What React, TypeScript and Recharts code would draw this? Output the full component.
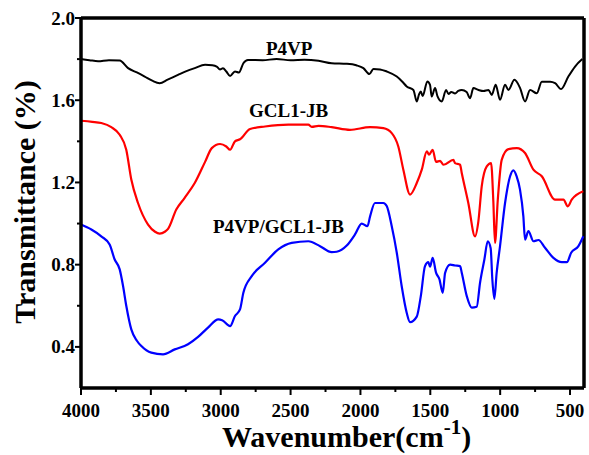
import React from 'react';
import { LineChart, Line, XAxis, YAxis, ReferenceLine } from 'recharts';

// FTIR spectra, [wavenumber cm-1, transmittance]
const P4VP: [number, number][] = [
  [4000, 1.8], [3940, 1.795], [3878, 1.79], [3800, 1.795], [3723, 1.793], [3663, 1.756], [3600, 1.735],
  [3544, 1.715], [3490, 1.695], [3437, 1.683], [3380, 1.7], [3306, 1.723], [3250, 1.74], [3186, 1.756],
  [3112, 1.772], [3060, 1.77], [3029, 1.764], [3005, 1.75], [2984, 1.755], [2960, 1.74], [2933, 1.718],
  [2898, 1.74], [2870, 1.735], [2838, 1.78], [2805, 1.796], [2700, 1.795], [2600, 1.8], [2500, 1.795],
  [2400, 1.797], [2300, 1.792], [2206, 1.78], [2098, 1.777], [2030, 1.77], [1979, 1.756], [1936, 1.727],
  [1907, 1.752], [1860, 1.75], [1812, 1.74], [1740, 1.715], [1700, 1.69], [1669, 1.667], [1621, 1.65],
  [1597, 1.594], [1580, 1.63], [1568, 1.642], [1555, 1.62], [1521, 1.691], [1502, 1.675], [1490, 1.618],
  [1466, 1.659], [1449, 1.62], [1418, 1.594], [1387, 1.65], [1370, 1.63], [1350, 1.64], [1323, 1.633],
  [1300, 1.645], [1275, 1.65], [1240, 1.64], [1215, 1.61], [1192, 1.659], [1155, 1.65], [1120, 1.645],
  [1084, 1.65], [1060, 1.626], [1032, 1.675], [1001, 1.602], [965, 1.675], [941, 1.65], [898, 1.699],
  [858, 1.66], [822, 1.594], [786, 1.65], [738, 1.634], [702, 1.69], [643, 1.69], [607, 1.683],
  [564, 1.654], [512, 1.715], [464, 1.764], [412, 1.8],
];

const GCL1_JB: [number, number][] = [
  [4000, 1.5], [3920, 1.495], [3855, 1.489], [3783, 1.469], [3723, 1.432], [3676, 1.359], [3640, 1.214],
  [3592, 1.1], [3520, 0.995], [3470, 0.96], [3437, 0.951], [3400, 0.96], [3377, 0.974], [3318, 1.068],
  [3258, 1.125], [3186, 1.197], [3112, 1.3], [3064, 1.367], [3005, 1.387], [2960, 1.375], [2933, 1.359],
  [2898, 1.4], [2862, 1.41], [2790, 1.46], [2683, 1.472], [2516, 1.481], [2373, 1.481], [2349, 1.47],
  [2300, 1.475], [2206, 1.469], [2075, 1.456], [1931, 1.469], [1836, 1.464], [1776, 1.44], [1729, 1.375],
  [1693, 1.262], [1645, 1.141], [1597, 1.197], [1561, 1.262], [1525, 1.351], [1509, 1.335], [1483, 1.359],
  [1459, 1.3], [1430, 1.305], [1406, 1.286], [1335, 1.31], [1323, 1.294], [1287, 1.286], [1275, 1.246],
  [1228, 1.1], [1180, 0.938], [1156, 1.011], [1132, 1.181], [1096, 1.278], [1065, 1.294], [1049, 1.11],
  [1037, 0.906], [1017, 1.116], [989, 1.31], [941, 1.362], [881, 1.367], [822, 1.343], [762, 1.262],
  [702, 1.23], [607, 1.116], [547, 1.116], [516, 1.084], [488, 1.116], [405, 1.157],
];

const BLEND: [number, number][] = [
  [4000, 0.995], [3926, 0.971], [3855, 0.938], [3795, 0.898], [3759, 0.825], [3723, 0.777], [3699, 0.696],
  [3676, 0.6], [3640, 0.485], [3600, 0.43], [3568, 0.404], [3497, 0.372], [3413, 0.364], [3329, 0.388],
  [3234, 0.413], [3160, 0.45], [3091, 0.494], [3017, 0.534], [2990, 0.53], [2933, 0.501], [2898, 0.55],
  [2862, 0.582], [2838, 0.663], [2778, 0.744], [2683, 0.809], [2588, 0.874], [2492, 0.906], [2373, 0.914],
  [2289, 0.89], [2206, 0.861], [2170, 0.863], [2098, 0.893], [2039, 0.947], [1991, 1.0], [1950, 0.987],
  [1931, 1.035], [1896, 1.1], [1836, 1.1], [1812, 1.085], [1776, 0.987], [1740, 0.858], [1705, 0.696],
  [1669, 0.566], [1645, 0.52], [1597, 0.547], [1568, 0.647], [1538, 0.793], [1514, 0.812], [1502, 0.79],
  [1483, 0.833], [1459, 0.761], [1435, 0.73], [1411, 0.663], [1394, 0.76], [1358, 0.8], [1323, 0.796],
  [1287, 0.793], [1275, 0.761], [1239, 0.647], [1203, 0.591], [1168, 0.595], [1144, 0.712], [1113, 0.825],
  [1089, 0.914], [1068, 0.88], [1056, 0.728], [1042, 0.634], [1025, 0.761], [1001, 0.89], [965, 1.1],
  [929, 1.23], [906, 1.259], [882, 1.23], [858, 1.165], [834, 1.035], [822, 0.922], [798, 0.963],
  [762, 0.914], [726, 0.92], [679, 0.882], [619, 0.833], [559, 0.812], [523, 0.812], [492, 0.858],
  [440, 0.89], [405, 0.938],
];

const X_TICKS = [4000, 3750, 3500, 3250, 3000, 2750, 2500, 2250, 2000, 1750, 1500, 1250, 1000, 750, 500];
const Y_TICKS = [0.4, 0.6, 0.8, 1.0, 1.2, 1.4, 1.6, 1.8, 2.0];

const FONT = "'Liberation Serif', 'Times New Roman', serif";

const toRows = (pts: [number, number][]) => pts.map(([wn, t]) => ({ wn, t }));

const XTick = (props: any) => {
  const { x, y, payload } = props;
  const major = payload.value % 500 === 0;
  return (
    <g>
      <line x1={x} x2={x} y1={y} y2={y + (major ? 7 : 4)} stroke="#000" strokeWidth={2} />
      {major && (
        <text x={x} y={y + 29} textAnchor="middle" fontFamily={FONT} fontWeight="bold" fontSize={19} fill="#000">
          {payload.value}
        </text>
      )}
    </g>
  );
};

const YTick = (props: any) => {
  const { x, y, payload } = props;
  const major = Math.round(payload.value * 10) % 4 === 0;
  return (
    <g>
      <line x1={x - (major ? 6 : 4)} x2={x} y1={y} y2={y} stroke="#000" strokeWidth={2} />
      {major && (
        <text x={x - 6} y={y + 6.5} textAnchor="end" fontFamily={FONT} fontWeight="bold" fontSize={19} fill="#000">
          {payload.value.toFixed(1)}
        </text>
      )}
    </g>
  );
};

export default function App() {
  return (
    <div style={{ position: 'absolute', left: 0, top: 0, width: 589, height: 455, background: '#fff' }}>
      <LineChart width={589} height={455} margin={{ top: 18, right: 5, left: 0, bottom: 0 }}>
        <XAxis
          dataKey="wn"
          type="number"
          domain={[400, 4000]}
          reversed
          ticks={X_TICKS}
          interval={0}
          height={67}
          tickSize={0}
          tickMargin={0}
          tickLine={false}
          tick={<XTick />}
          axisLine={{ stroke: '#000', strokeWidth: 3.5 }}
          allowDuplicatedCategory={false}
        />
        <YAxis
          type="number"
          domain={[0.2, 2.0]}
          ticks={Y_TICKS}
          interval={0}
          width={81}
          tickSize={0}
          tickMargin={0}
          tickLine={false}
          tick={<YTick />}
          axisLine={{ stroke: '#000', strokeWidth: 3.5 }}
        />
        <ReferenceLine y={2.0} stroke="#000" strokeWidth={3.5} />
        <ReferenceLine x={400} stroke="#000" strokeWidth={3.5} />
        <Line data={toRows(P4VP)} dataKey="t" type="monotone" stroke="#000000" strokeWidth={2} dot={false} isAnimationActive={false} />
        <Line data={toRows(GCL1_JB)} dataKey="t" type="monotone" stroke="#ff0000" strokeWidth={2.2} dot={false} isAnimationActive={false} />
        <Line data={toRows(BLEND)} dataKey="t" type="monotone" stroke="#0000ff" strokeWidth={2.2} dot={false} isAnimationActive={false} />
      </LineChart>
      <svg width={589} height={455} style={{ position: 'absolute', left: 0, top: 0, pointerEvents: 'none' }}>
        <g fontFamily={FONT} fontWeight="bold" fill="#000">
          <text x={266} y={55} fontSize={19}>P4VP</text>
          <text x={249} y={117} fontSize={19}>GCL1-JB</text>
          <text x={213} y={233} fontSize={19}>P4VP/GCL1-JB</text>
          <text x={35} y={202} fontSize={30} textAnchor="middle" transform="rotate(-90 35 202)">
            Transmittance (%)
          </text>
          <text x={222} y={447} fontSize={30}>
            Wavenumber(cm
            <tspan fontSize={21} dy={-13}>-1</tspan>
            <tspan dy={13}>)</tspan>
          </text>
        </g>
      </svg>
    </div>
  );
}
